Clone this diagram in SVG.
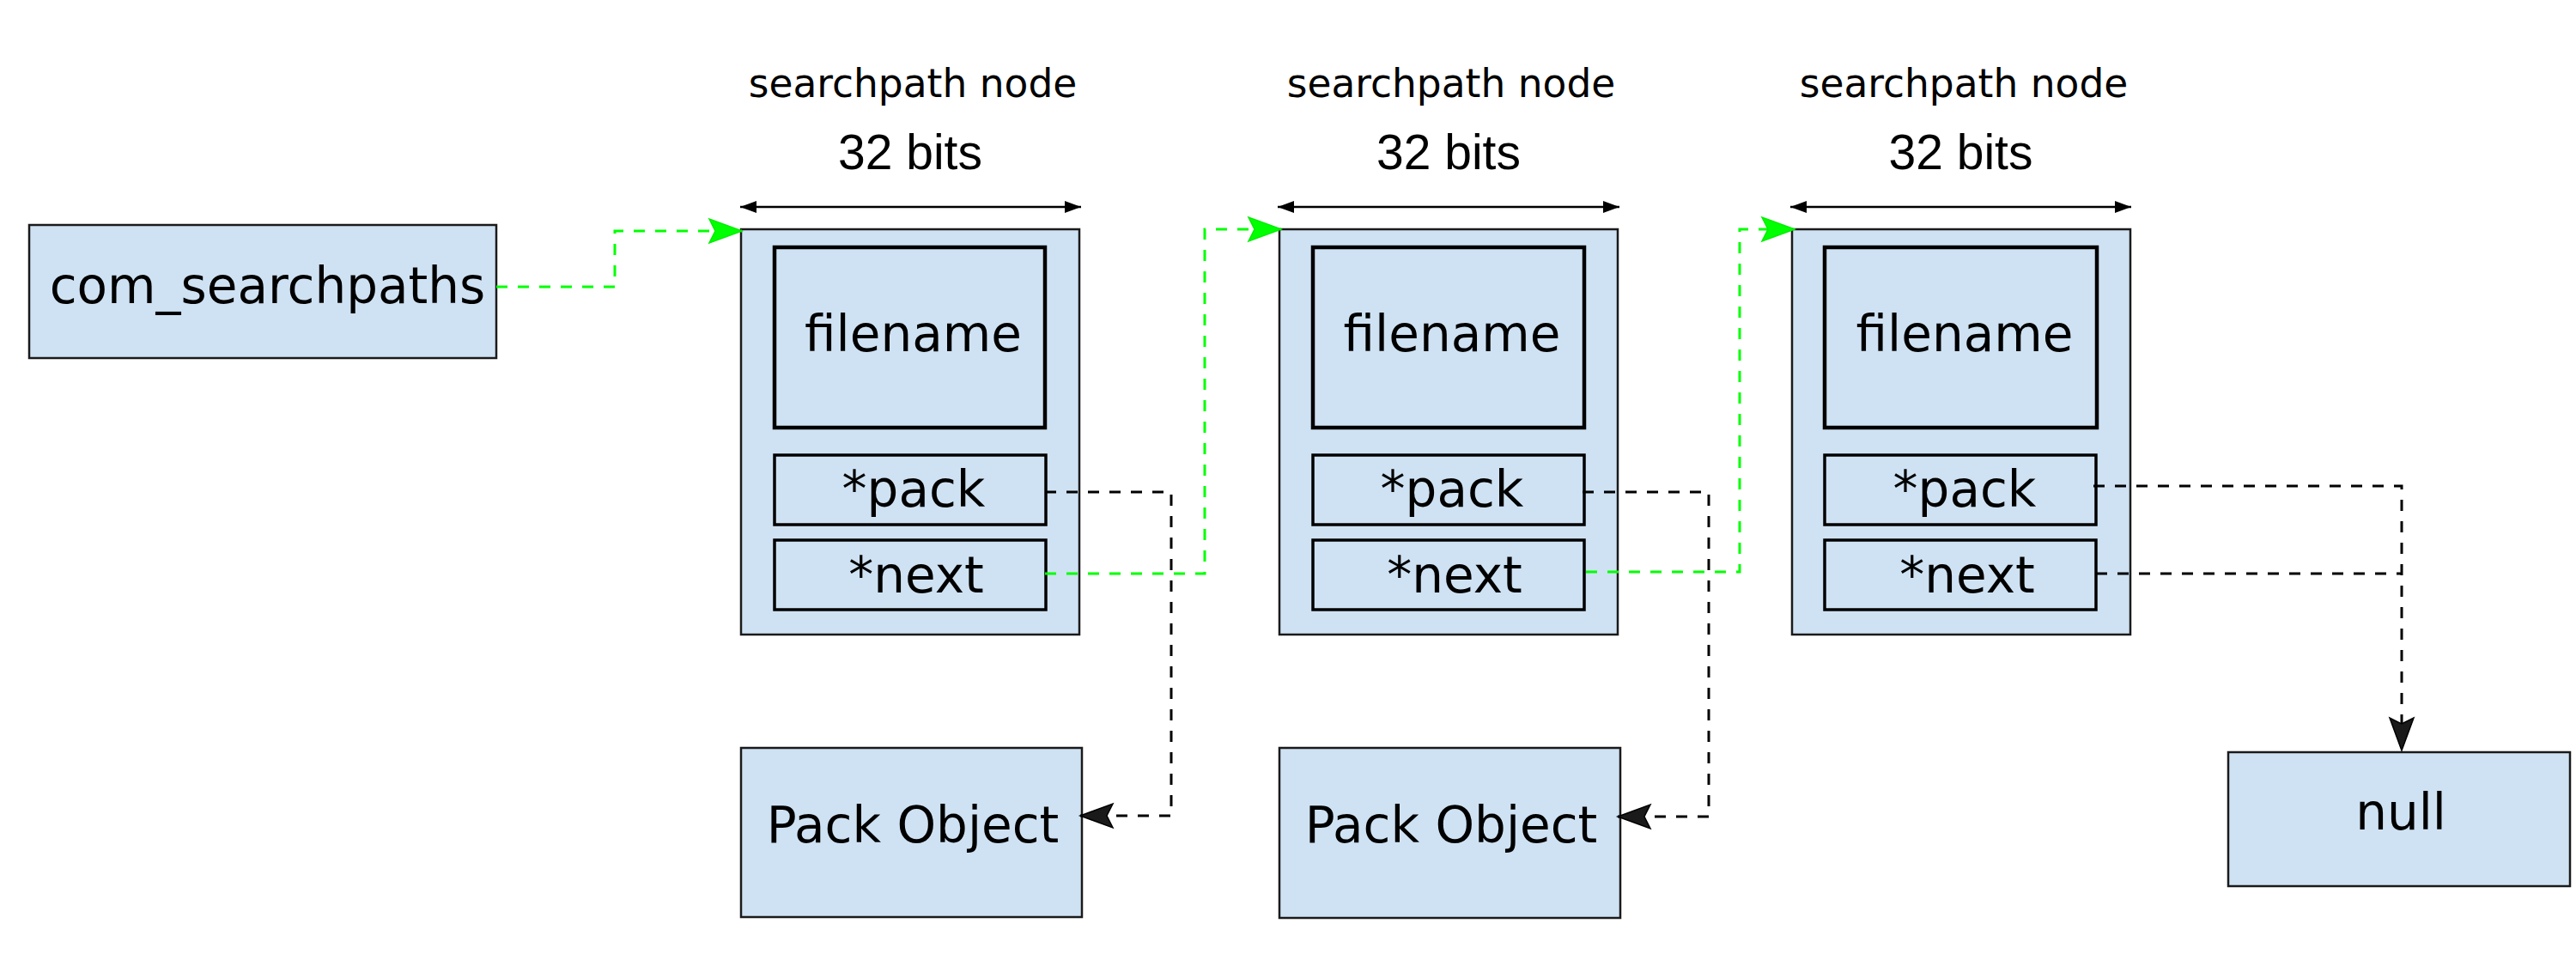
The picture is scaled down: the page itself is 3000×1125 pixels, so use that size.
<svg xmlns="http://www.w3.org/2000/svg" width="3000" height="1125" viewBox="0 0 3000 1125">
<style>
.box{fill:#cfe2f3;stroke:#1a1a1a;stroke-width:2.5}
.outer{fill:#cfe2f3;stroke:#1a1a1a;stroke-width:2.5}
.fname{fill:#cfe2f3;stroke:#000;stroke-width:4.5}
.field{fill:#cfe2f3;stroke:#000;stroke-width:3.5}
.lbl{font-family:"DejaVu Sans",Verdana,sans-serif;font-size:58px;fill:#000;text-anchor:middle}
.cap{font-family:"DejaVu Sans",Verdana,sans-serif;font-size:45.5px;fill:#000;text-anchor:middle}
.bits{font-family:"Liberation Sans",Arial,sans-serif;font-size:57px;fill:#000;text-anchor:middle}
.dim{fill:none;stroke:#000;stroke-width:2.5;marker-start:url(#dimArrow);marker-end:url(#dimArrow)}
.black{fill:none;stroke:#000;stroke-width:3;stroke-dasharray:13 12}
.green{fill:none;stroke:#00ff00;stroke-width:3;stroke-dasharray:13 12}
</style>
<defs>
<marker id="dimArrow" markerUnits="userSpaceOnUse" markerWidth="24" markerHeight="18" viewBox="-20 -9 22 18" refX="0" refY="0" orient="auto-start-reverse">
<path d="M0,0 L-19,-7 L-19,7 Z" fill="#000"/>
</marker>
<marker id="blackArrow" markerUnits="userSpaceOnUse" markerWidth="44" markerHeight="34" viewBox="-40 -17 42 34" refX="0" refY="0" orient="auto">
<path d="M0,0 L-38,-14 L-31,0 L-38,14 Z" fill="#1a1a1a" stroke="#000" stroke-width="1.5" stroke-linejoin="miter"/>
</marker>
<marker id="greenArrow" markerUnits="userSpaceOnUse" markerWidth="44" markerHeight="34" viewBox="-40 -17 42 34" refX="0" refY="0" orient="auto">
<path d="M0,0 L-38,-14 L-31,0 L-38,14 Z" fill="#00ff00" stroke="#00ee00" stroke-width="1.5"/>
</marker>
</defs>
<rect width="3000" height="1125" fill="#fff"/>

<g id="com_searchpaths">
<rect class="box" x="34" y="262" width="544" height="155"/>
<text class="lbl" x="311.5" y="353">com_searchpaths</text>
</g>

<g id="node1">
<text class="cap" x="1063" y="112.7">searchpath node</text>
<text class="bits" x="1060" y="197">32 bits</text>
<line class="dim" x1="862" y1="241" x2="1259" y2="241"/>
<rect class="outer" x="863" y="267" width="394" height="472"/>
<rect class="fname" x="902" y="288" width="315" height="210"/>
<text class="lbl" x="1063.5" y="409">filename</text>
<rect class="field" x="902" y="530" width="316" height="81"/>
<text class="lbl" x="1064" y="590">*pack</text>
<rect class="field" x="902" y="629" width="316" height="81"/>
<text class="lbl" x="1067" y="690">*next</text>
</g>

<g id="node2">
<text class="cap" x="1690" y="112.7">searchpath node</text>
<text class="bits" x="1687" y="197">32 bits</text>
<line class="dim" x1="1488" y1="241" x2="1886" y2="241"/>
<rect class="outer" x="1490" y="267" width="394" height="472"/>
<rect class="fname" x="1529" y="288" width="316" height="210"/>
<text class="lbl" x="1691" y="409">filename</text>
<rect class="field" x="1529" y="530" width="316" height="81"/>
<text class="lbl" x="1691" y="590">*pack</text>
<rect class="field" x="1529" y="629" width="316" height="81"/>
<text class="lbl" x="1694" y="690">*next</text>
</g>

<g id="node3">
<text class="cap" x="2287" y="112.7">searchpath node</text>
<text class="bits" x="2283.5" y="197">32 bits</text>
<line class="dim" x1="2085" y1="241" x2="2482" y2="241"/>
<rect class="outer" x="2087" y="267" width="394" height="472"/>
<rect class="fname" x="2125" y="288" width="317" height="210"/>
<text class="lbl" x="2288" y="409">filename</text>
<rect class="field" x="2125" y="530" width="316" height="81"/>
<text class="lbl" x="2288" y="590">*pack</text>
<rect class="field" x="2125" y="629" width="316" height="81"/>
<text class="lbl" x="2291" y="690">*next</text>
</g>

<g id="pack1">
<rect class="box" x="863" y="871" width="397" height="197"/>
<text class="lbl" x="1063" y="981">Pack Object</text>
</g>

<g id="pack2">
<rect class="box" x="1490" y="871" width="397" height="198"/>
<text class="lbl" x="1690" y="981">Pack Object</text>
</g>

<g id="null">
<rect class="box" x="2595" y="876" width="398" height="156"/>
<text class="lbl" x="2796" y="966">null</text>
</g>

<g id="connectors">
<path class="green" d="M578,334 H716 V269 H864" marker-end="url(#greenArrow)"/>
<path class="black" d="M1217,573 H1364 V950 H1258" marker-end="url(#blackArrow)"/>
<path class="green" d="M1217,668 H1403 V267 H1492" marker-end="url(#greenArrow)"/>
<path class="black" d="M1843,573 H1990 V951 H1884" marker-end="url(#blackArrow)"/>
<path class="green" d="M1847,666 H2026 V267 H2090" marker-end="url(#greenArrow)"/>
<path class="black" d="M2438,566 H2797 V874" marker-end="url(#blackArrow)"/>
<path class="black" d="M2441,668 H2797"/>
</g>
</svg>
